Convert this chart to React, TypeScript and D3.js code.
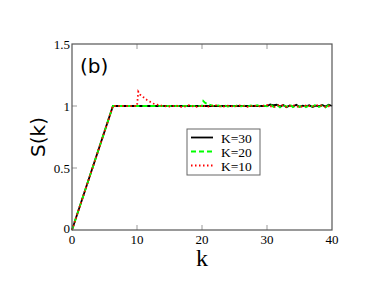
import * as d3 from 'd3';

// S(k) for three values of K
const kBlack = [0, 6.3, 30, 30.5, 31, 31.5, 32, 32.5, 33, 33.5, 34, 34.5, 35, 35.5, 36, 36.5, 37, 37.5, 38, 38.5, 39, 39.5, 40];
const sBlack = [0, 1, 1, 1.012, 1.006, 1.01, 0.995, 1.008, 0.99, 1.004, 0.996, 1.01, 0.993, 1.002, 0.997, 1.006, 0.992, 1.003, 0.998, 1.008, 0.995, 1.01, 1.0];

const kGreen = [0, 6.3, 20, 20.2, 20.5, 21, 21.5, 22, 22.5, 23, 23.5, 24, 24.5, 25, 25.5, 26, 26.5, 27, 27.5, 28, 28.5, 29, 29.5, 30, 30.5, 31, 31.5, 32, 32.5, 33, 33.5, 34, 34.5, 35, 35.5, 36, 36.5, 37, 37.5, 38, 38.5, 39, 39.5, 40];
const sGreen = [0, 1, 1, 1.04, 1.025, 1.012, 1.006, 0.998, 1.005, 0.997, 1.004, 0.996, 1.003, 0.998, 1.006, 0.997, 1.002, 0.995, 1.004, 0.999, 1.006, 0.996, 1.003, 0.998, 1.012, 0.992, 1.01, 0.988, 1.006, 0.994, 1.012, 0.99, 1.004, 0.993, 1.009, 0.991, 1.005, 0.996, 1.01, 0.992, 1.004, 0.989, 1.007, 0.998];

const kRed = [0, 6.3, 10, 10.2, 10.5, 11, 11.5, 12, 12.5, 13, 14, 15, 16, 17, 18, 19, 20, 21, 22, 23, 24, 25, 26, 27, 28, 29, 30, 31, 32, 33, 34, 35, 36, 37, 38, 39, 40];
const sRed = [0, 1, 1, 1.115, 1.09, 1.07, 1.05, 1.035, 1.02, 1.012, 1.0, 0.996, 1.004, 0.99, 1.006, 0.992, 1.003, 0.995, 1.008, 0.994, 1.002, 0.996, 1.005, 0.993, 1.004, 0.997, 1.008, 0.99, 1.01, 0.994, 1.006, 0.991, 1.004, 0.996, 1.008, 0.993, 1.002];

const xTicks = [0, 10, 20, 30, 40];
const yTicks = [0, 0.5, 1, 1.5];
const yTickLabels = ['0', '0.5', '1', '1.5'];

const seriesNames = ['K=30', 'K=20', 'K=10'];

const W = 374;
const H = 289;
const left = 72;
const right = 332;
const top = 44;
const bottom = 230;

const serif = '"Liberation Serif", "Times New Roman", serif';
const sans = '"DejaVu Sans", sans-serif';

export default function App() {
  const x = d3.scaleLinear().domain([0, 40]).range([left, right]);
  const y = d3.scaleLinear().domain([0, 1.5]).range([bottom, top]);

  const line = d3
    .line<[number, number]>()
    .x((d) => x(d[0]))
    .y((d) => y(d[1]));

  const series = [
    { name: seriesNames[0], data: d3.zip(kBlack, sBlack) as [number, number][], color: '#000000', dash: undefined },
    { name: seriesNames[1], data: d3.zip(kGreen, sGreen) as [number, number][], color: '#00ff00', dash: '5 3' },
    { name: seriesNames[2], data: d3.zip(kRed, sRed) as [number, number][], color: '#ff0000', dash: '1.5 2.5' }
  ];

  const legX = 187;
  const legY = 129;
  const rowH = 14;

  return (
    <svg width={W} height={H} style={{ position: 'absolute', left: 0, top: 0 }}>
      <rect width={W} height={H} fill="#ffffff" />

      {/* ticks */}
      {xTicks.slice(1, -1).map((t) => (
        <g key={'xt' + t} stroke="#999" strokeWidth={1}>
          <line x1={x(t)} x2={x(t)} y1={bottom} y2={bottom - 5} />
          <line x1={x(t)} x2={x(t)} y1={top} y2={top + 5} />
        </g>
      ))}
      {yTicks.slice(1, -1).map((t) => (
        <line key={'yt' + t} x1={left} x2={left + 5} y1={y(t)} y2={y(t)} stroke="#999" strokeWidth={1} />
      ))}

      {/* series */}
      {series.map((s) => (
        <path
          key={s.name}
          d={line(s.data) ?? ''}
          fill="none"
          stroke={s.color}
          strokeWidth={1.8}
          strokeDasharray={s.dash}
        />
      ))}

      {/* frame */}
      <rect x={left} y={top} width={right - left} height={bottom - top} fill="none" stroke="#555" strokeWidth={1.2} />

      {/* tick labels */}
      {xTicks.map((t) => (
        <text key={'xl' + t} x={x(t)} y={244} textAnchor="middle" fontFamily={serif} fontSize={13}>
          {t}
        </text>
      ))}
      {yTicks.map((t, i) => (
        <text key={'yl' + t} x={left - 2} y={y(t) - (i === 0 ? 2 : 0)} dy="0.35em" textAnchor="end" fontFamily={serif} fontSize={13}>
          {yTickLabels[i]}
        </text>
      ))}

      {/* axis labels */}
      <text x={(left + right) / 2} y={266} textAnchor="middle" fontFamily={serif} fontSize={24}>
        k
      </text>
      <text
        transform={`translate(45, ${(top + bottom) / 2}) rotate(-90)`}
        textAnchor="middle"
        fontFamily={sans}
        fontSize={20}
      >
        S(k)
      </text>
      <text x={80} y={73} fontFamily={sans} fontSize={20}>
        (b)
      </text>

      {/* legend */}
      <rect x={legX} y={legY} width={73} height={46} fill="#ffffff" stroke="#666" strokeWidth={1} />
      {series.map((s, i) => (
        <g key={'lg' + s.name}>
          <line
            x1={legX + 4}
            x2={legX + 26}
            y1={legY + 8.5 + i * rowH}
            y2={legY + 8.5 + i * rowH}
            stroke={s.color}
            strokeWidth={1.8}
            strokeDasharray={s.dash}
          />
          <text x={legX + 34} y={legY + 14 + i * rowH} fontFamily={serif} fontSize={13.5}>
            {s.name}
          </text>
        </g>
      ))}
    </svg>
  );
}
